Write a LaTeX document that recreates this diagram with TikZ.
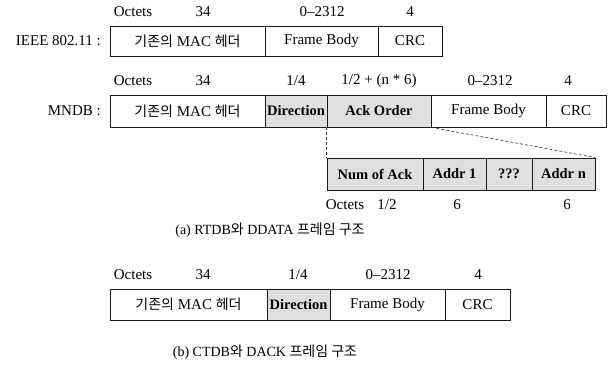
\documentclass[tikz,border=0pt]{standalone}
\usepackage{fontspec}
\setmainfont{Liberation Serif}
\newfontfamily\kr{Noto Sans CJK KR}
\tikzset{
  every node/.style={inner sep=0pt},
  cell/.style={draw=black!90, line width=0.8pt, font=\fontsize{15}{18}\selectfont},
  shcell/.style={cell, fill=gray!25, font=\fontsize{14.5}{18}\selectfont\bfseries},
  lbl/.style={font=\fontsize{15}{18}\selectfont},
  captxt/.style={font=\fontsize{14}{17}\selectfont},
  link/.style={densely dashed, line width=0.6pt, draw=black!80}
}
\begin{document}
\begin{tikzpicture}[x=1pt,y=-1pt]
\useasboundingbox (0,0) rectangle (608,367);
% ---- Row 1: IEEE 802.11
\node[lbl, anchor=east] (ieee) at (101,41) {IEEE 802.11 :};
\node[cell, minimum width=155pt, minimum height=30pt] (r1a) at (187.5,41) {{\kr\fontsize{14}{17}\selectfont 기존의} MAC {\kr\fontsize{14}{17}\selectfont 헤더}};
\node[cell, minimum width=113pt, minimum height=30pt] (r1b) at (321.5,41) {Frame Body};
\node[cell, minimum width=64pt, minimum height=30pt] (r1c) at (410,41) {CRC};
\node[lbl] (r1o) at (133,12) {Octets};
\node[lbl] (r1n1) at (203,12) {34};
\node[lbl] (r1n2) at (322,12) {0–2312};
\node[lbl] (r1n3) at (410,12) {4};
% ---- Row 2: MNDB
\node[lbl, anchor=east] (mndb) at (101,111) {MNDB :};
\node[cell, minimum width=155pt, minimum height=32pt] (m1) at (187.5,111) {{\kr\fontsize{14}{17}\selectfont 기존의} MAC {\kr\fontsize{14}{17}\selectfont 헤더}};
\node[shcell, minimum width=62pt, minimum height=32pt] (m2) at (296,111) {Direction};
\node[shcell, minimum width=104pt, minimum height=32pt] (m3) at (379,111) {Ack Order};
\node[cell, minimum width=115pt, minimum height=32pt] (m4) at (488.5,111) {Frame Body};
\node[cell, minimum width=60pt, minimum height=32pt] (m5) at (576,111) {CRC};
\node[lbl] (m0o) at (133,81) {Octets};
\node[lbl] (m0n1) at (203,81) {34};
\node[lbl] (m0n2) at (296,81) {1/4};
\node[lbl] (m0n3) at (379,81) {1/2 + (n * 6)};
\node[lbl] (m0n4) at (490,81) {0–2312};
\node[lbl] (m0n5) at (568,81) {4};
% ---- Sub fields of Ack Order
\node[shcell, minimum width=96pt, minimum height=32pt] (s1) at (375,174) {Num of Ack};
\node[shcell, minimum width=63pt, minimum height=32pt] (s2) at (454.5,174) {Addr 1};
\node[shcell, minimum width=46pt, minimum height=32pt] (s3) at (509,174) {???};
\node[shcell, minimum width=63pt, minimum height=32pt] (s4) at (563.5,174) {Addr n};
\draw[link] (m3.south west) -- (s1.north west);
\draw[link] (m3.south east) -- (s4.north east);
\node[lbl] (so) at (345,205) {Octets};
\node[lbl] (sn1) at (387,205) {1/2};
\node[lbl] (sn2) at (457,205) {6};
\node[lbl] (sn3) at (567,205) {6};
\node[captxt] (capa) at (270,230) {(a) RTDB{\kr 와} DDATA {\kr 프레임 구조}};
% ---- Row 3
\node[cell, minimum width=157pt, minimum height=31pt] (b1) at (188.5,304.5) {{\kr\fontsize{14}{17}\selectfont 기존의} MAC {\kr\fontsize{14}{17}\selectfont 헤더}};
\node[shcell, minimum width=63pt, minimum height=31pt] (b2) at (298.5,304.5) {Direction};
\node[cell, minimum width=115pt, minimum height=31pt] (b3) at (387.5,304.5) {Frame Body};
\node[cell, minimum width=65pt, minimum height=31pt] (b4) at (477.5,304.5) {CRC};
\node[lbl] (b0o) at (133,275) {Octets};
\node[lbl] (b0n1) at (203,275) {34};
\node[lbl] (b0n2) at (298,275) {1/4};
\node[lbl] (b0n3) at (388,275) {0–2312};
\node[lbl] (b0n4) at (478,275) {4};
\node[captxt] (capb) at (265,352) {(b) CTDB{\kr 와} DACK {\kr 프레임 구조}};
\end{tikzpicture}
\end{document}
